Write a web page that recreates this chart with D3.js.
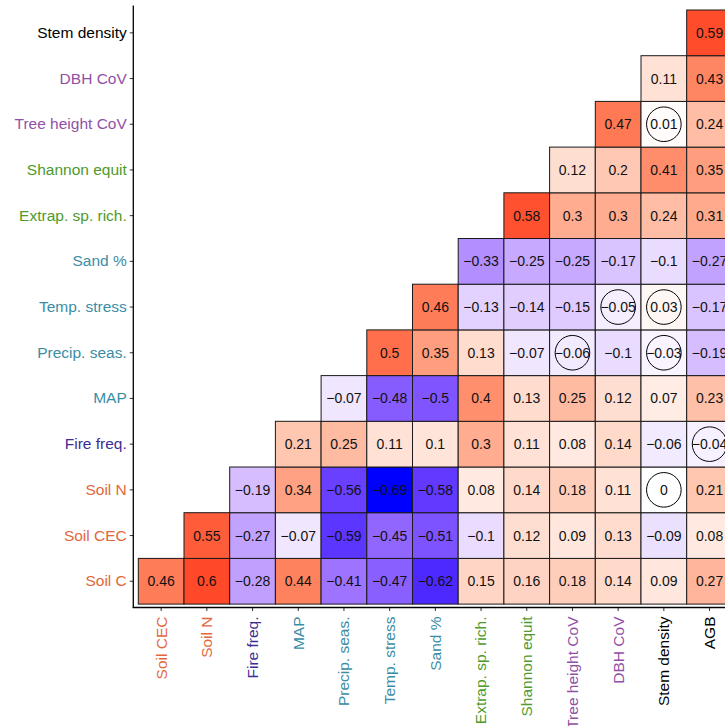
<!DOCTYPE html>
<html>
<head>
<meta charset="utf-8">
<script src="https://cdn.jsdelivr.net/npm/d3@7/dist/d3.min.js"></script>
<style>
  html, body { margin: 0; padding: 0; background: #fff; }
  svg { display: block; font-family: "Liberation Sans", Arial, sans-serif; }
</style>
</head>
<body>
<svg id="chart" width="725" height="726"></svg>
<script>
// Variables, bottom row first; the last one (AGB) appears only as a column.
const variables = ["Soil C", "Soil CEC", "Soil N", "Fire freq.", "MAP", "Precip. seas.",
  "Temp. stress", "Sand %", "Extrap. sp. rich.", "Shannon equit", "Tree height CoV",
  "DBH CoV", "Stem density", "AGB"];

// Label colour group of each variable
const groups = ["soil", "soil", "soil", "fire", "climate", "climate", "climate", "climate",
  "diversity", "diversity", "structure", "structure", "stand", "stand"];
const groupColours = {
  soil: "#E2673D", fire: "#3D2C96", climate: "#3A8DA6",
  diversity: "#4E9A2C", structure: "#9150A6", stand: "#000000"
};

// Correlations per row variable, against every later variable in order
const rSoilC   = [0.46, 0.6, -0.28, 0.44, -0.41, -0.47, -0.62, 0.15, 0.16, 0.18, 0.14, 0.09, 0.27];
const rSoilCEC = [0.55, -0.27, -0.07, -0.59, -0.45, -0.51, -0.1, 0.12, 0.09, 0.13, -0.09, 0.08];
const rSoilN   = [-0.19, 0.34, -0.56, -0.69, -0.58, 0.08, 0.14, 0.18, 0.11, 0, 0.21];
const rFire    = [0.21, 0.25, 0.11, 0.1, 0.3, 0.11, 0.08, 0.14, -0.06, -0.04];
const rMAP     = [-0.07, -0.48, -0.5, 0.4, 0.13, 0.25, 0.12, 0.07, 0.23];
const rPrecip  = [0.5, 0.35, 0.13, -0.07, -0.06, -0.1, -0.03, -0.19];
const rTemp    = [0.46, -0.13, -0.14, -0.15, -0.05, 0.03, -0.17];
const rSand    = [-0.33, -0.25, -0.25, -0.17, -0.1, -0.27];
const rExtrap  = [0.58, 0.3, 0.3, 0.24, 0.31];
const rShannon = [0.12, 0.2, 0.41, 0.35];
const rTreeH   = [0.47, 0.01, 0.24];
const rDBH     = [0.11, 0.43];
const rStem    = [0.59];
const corrRows = [rSoilC, rSoilCEC, rSoilN, rFire, rMAP, rPrecip, rTemp, rSand,
  rExtrap, rShannon, rTreeH, rDBH, rStem];

// Non-significant pairs [row variable, column variable]
const notSignificant = [
  ["Tree height CoV", "Stem density"],
  ["Temp. stress", "DBH CoV"],
  ["Temp. stress", "Stem density"],
  ["Precip. seas.", "Tree height CoV"],
  ["Precip. seas.", "Stem density"],
  ["Fire freq.", "AGB"],
  ["Soil N", "Stem density"]
];

const rowVars = variables.slice(0, 13);
const colVars = variables.slice(1);

const cells = [];
corrRows.forEach((vals, i) => {
  vals.forEach((v, k) => {
    const row = variables[i], col = variables[i + 1 + k];
    cells.push({
      row, col, value: v,
      ns: notSignificant.some(p => p[0] === row && p[1] === col)
    });
  });
});

const colourOf = name => groupColours[groups[variables.indexOf(name)]];

const svg = d3.select("#chart");
const step = 45.7;
const gridLeft = 138.3, gridTop = 10;

const x = d3.scaleBand().domain(colVars).range([gridLeft, gridLeft + step * colVars.length]);
const y = d3.scaleBand().domain(rowVars.slice().reverse()).range([gridTop, gridTop + step * rowVars.length]);

const fill = d3.scaleLinear()
  .domain([-0.69, 0, 0.69])
  .range(["#0000FF", "#FFFFFF", "#FF0000"])
  .interpolate(d3.interpolateLab)
  .clamp(true);

const fmt = v => (v < 0 ? "\u2212" : "") + String(Math.abs(v));

// Tiles
svg.append("g").selectAll("rect").data(cells).join("rect")
  .attr("x", d => x(d.col))
  .attr("y", d => y(d.row))
  .attr("width", x.bandwidth())
  .attr("height", y.bandwidth())
  .attr("fill", d => fill(d.value))
  .attr("stroke", "#1a1a1a")
  .attr("stroke-width", 1);

// Coefficient labels
svg.append("g").selectAll("text").data(cells).join("text")
  .attr("x", d => x(d.col) + x.bandwidth() / 2)
  .attr("y", d => y(d.row) + y.bandwidth() / 2)
  .attr("dy", "0.36em")
  .attr("text-anchor", "middle")
  .attr("font-size", 14)
  .attr("fill", "#111")
  .text(d => fmt(d.value));

// Rings marking non-significant correlations
svg.append("g").selectAll("circle").data(cells.filter(d => d.ns)).join("circle")
  .attr("cx", d => x(d.col) + x.bandwidth() / 2)
  .attr("cy", d => y(d.row) + y.bandwidth() / 2)
  .attr("r", 17.3)
  .attr("fill", "none")
  .attr("stroke", "#000")
  .attr("stroke-width", 1);

// Axes
const axisX = 133.3, axisY = 607.5;
const yAxis = svg.append("g").attr("transform", `translate(${axisX},0)`)
  .call(d3.axisLeft(y).tickSize(3.5).tickPadding(3));
const xAxis = svg.append("g").attr("transform", `translate(0,${axisY})`)
  .call(d3.axisBottom(x).tickSize(3.5).tickPadding(3));

[yAxis, xAxis].forEach(g => {
  g.select(".domain").remove();
  g.selectAll(".tick line").attr("stroke", "#333").attr("stroke-width", 1);
  g.selectAll(".tick text")
    .attr("font-size", 15.5)
    .attr("font-family", "Liberation Sans, Arial, sans-serif")
    .attr("fill", d => colourOf(d));
});

xAxis.selectAll(".tick text")
  .attr("transform", "rotate(-90)")
  .attr("text-anchor", "end")
  .attr("x", -9)
  .attr("y", 0)
  .attr("dy", "0.35em");

// Axis lines
svg.append("line")
  .attr("x1", axisX).attr("x2", axisX)
  .attr("y1", 5.4).attr("y2", axisY + 0.6)
  .attr("stroke", "#000").attr("stroke-width", 1.3);
svg.append("line")
  .attr("x1", axisX - 0.6).attr("x2", 740)
  .attr("y1", axisY).attr("y2", axisY)
  .attr("stroke", "#000").attr("stroke-width", 1.3);
</script>
</body>
</html>
